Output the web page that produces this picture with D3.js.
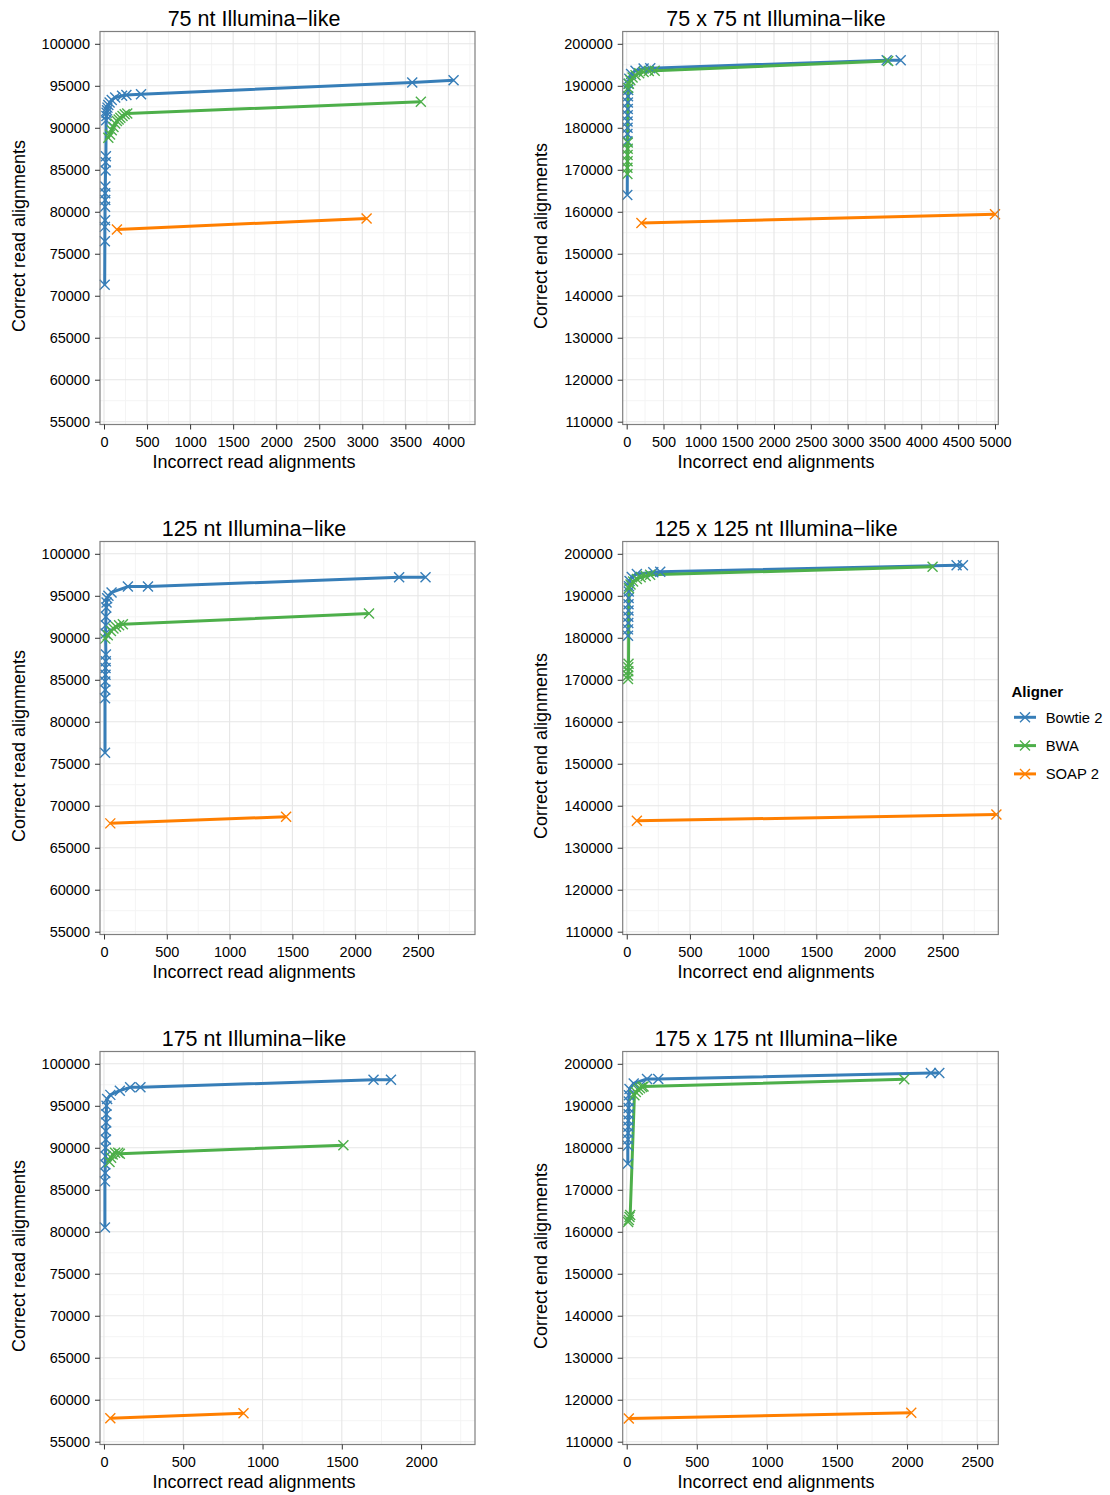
<!DOCTYPE html>
<html><head><meta charset="utf-8">
<script src="https://cdn.jsdelivr.net/npm/d3@7"></script>
<style>
body{margin:0;background:#fff}
text{font-family:"Liberation Sans",Arial,Helvetica,sans-serif;fill:#000}
</style>
</head><body>
<svg id="chart" width="1110" height="1495"></svg>
<script>
// ---------- data ----------
const aligners = ["Bowtie 2", "BWA", "SOAP 2"];
const alignerColors = ["#377EB8", "#4DAF4A", "#FF7F00"];

const panelTitles = ["75 nt Illumina\u2212like", "75 x 75 nt Illumina\u2212like",
  "125 nt Illumina\u2212like", "125 x 125 nt Illumina\u2212like",
  "175 nt Illumina\u2212like", "175 x 175 nt Illumina\u2212like"];
const xTitles = ["Incorrect read alignments", "Incorrect end alignments"];
const yTitles = ["Correct read alignments", "Correct end alignments"];

const singleYTicks = [55000, 60000, 65000, 70000, 75000, 80000, 85000, 90000, 95000, 100000];
const pairedYTicks = [110000, 120000, 130000, 140000, 150000, 160000, 170000, 180000, 190000, 200000];
const xTicks75 = [0, 500, 1000, 1500, 2000, 2500, 3000, 3500, 4000];
const xTicks75p = [0, 500, 1000, 1500, 2000, 2500, 3000, 3500, 4000, 4500, 5000];
const xTicks125 = [0, 500, 1000, 1500, 2000, 2500];
const xTicks175 = [0, 500, 1000, 1500, 2000];
const xTicks175p = [0, 500, 1000, 1500, 2000, 2500];

// panel 1: 75 nt single
const p1Bowtie2 = [[8,71300],[10,76500],[10,78200],[12,79000],[12,80600],[14,81400],[14,82200],[15,83000],[18,84900],[20,85900],[22,86600],[25,90900],[28,91400],[30,91800],[35,92100],[40,92400],[50,92700],[65,93000],[90,93300],[130,93600],[210,93800],[260,93900],[430,94000],[3580,95400],[4060,95650]];
const p1BWA = [[50,88800],[70,89200],[90,89700],[110,90100],[130,90500],[150,90800],[170,91000],[190,91200],[215,91400],[240,91600],[270,91700],[3680,93100]];
const p1SOAP2 = [[150,77900],[3050,79200]];
// panel 2: 75 x 75 paired
const p2Bowtie2 = [[8,164000],[10,176800],[10,178500],[12,180000],[12,181500],[14,183000],[15,184500],[16,186000],[18,187500],[20,189000],[25,190500],[35,191700],[60,192800],[120,193600],[230,194100],[320,194200],[3530,196100],[3720,196100]];
const p2BWA = [[10,169000],[10,170500],[12,172000],[12,173500],[14,175000],[15,176500],[20,189500],[30,190500],[50,191300],[80,192000],[120,192500],[170,193000],[230,193300],[300,193500],[380,193600],[3550,195900]];
const p2SOAP2 = [[200,157300],[5000,159400]];
// panel 3: 125 nt single
const p3Bowtie2 = [[8,76300],[8,82800],[10,83800],[10,84800],[12,85600],[12,86400],[14,87200],[15,88000],[12,90500],[14,91500],[15,92500],[18,93600],[20,94200],[25,94700],[35,95000],[60,95400],[190,96100],[350,96100],[2350,97200],[2560,97200]];
const p3BWA = [[10,89900],[30,90300],[55,90800],[75,91100],[95,91300],[120,91500],[150,91600],[2110,92900]];
const p3SOAP2 = [[50,67900],[1450,68700]];
// panel 4: 125 x 125 paired
const p4Bowtie2 = [[10,180500],[10,182000],[12,183500],[12,185000],[14,186500],[14,188000],[15,189500],[16,191000],[18,192300],[22,193500],[40,194500],[80,195200],[210,195600],[265,195700],[2610,197300],[2660,197300]];
const p4BWA = [[10,170200],[10,171000],[12,172000],[12,173000],[14,173800],[18,191800],[30,192700],[50,193400],[80,194000],[110,194400],[150,194700],[185,195000],[2420,196900]];
const p4SOAP2 = [[80,136400],[2925,137900]];
// panel 5: 175 nt single
const p5Bowtie2 = [[6,80500],[6,86000],[8,87000],[8,88000],[10,89000],[10,90000],[12,91000],[12,92000],[14,93000],[15,94000],[16,95000],[20,95800],[40,96300],[100,96800],[165,97200],[230,97200],[1700,98100],[1810,98100]];
const p5BWA = [[35,88300],[45,88800],[55,89200],[70,89400],[90,89400],[100,89300],[1510,90300]];
const p5SOAP2 = [[40,57800],[880,58400]];
// panel 6: 175 x 175 paired
const p6Bowtie2 = [[8,176200],[8,180500],[10,182000],[10,183500],[12,185000],[12,186500],[14,188000],[14,189500],[15,191000],[16,192500],[20,194000],[50,195300],[145,196400],[225,196400],[2170,197800],[2230,197800]];
const p6BWA = [[10,162300],[15,162800],[20,163500],[25,164000],[55,192500],[65,193300],[80,193800],[95,194200],[110,194500],[120,194600],[1980,196300]];
const p6SOAP2 = [[15,115500],[2030,116900]];

// ---------- layout ----------
const panels = [
  {series:[p1Bowtie2,p1BWA,p1SOAP2], xTicks:xTicks75,  yTicks:singleYTicks, xDom:[-46.5,4309], yDom:[54667,101465], col:0,row:0},
  {series:[p2Bowtie2,p2BWA,p2SOAP2], xTicks:xTicks75p, yTicks:pairedYTicks, xDom:[-54,5045],   yDom:[109333,202929], col:1,row:0},
  {series:[p3Bowtie2,p3BWA,p3SOAP2], xTicks:xTicks125, yTicks:singleYTicks, xDom:[-32,2954],   yDom:[54667,101465], col:0,row:1},
  {series:[p4Bowtie2,p4BWA,p4SOAP2], xTicks:xTicks125, yTicks:pairedYTicks, xDom:[-32,2940],   yDom:[109333,202929], col:1,row:1},
  {series:[p5Bowtie2,p5BWA,p5SOAP2], xTicks:xTicks175, yTicks:singleYTicks, xDom:[-25,2340],   yDom:[54667,101465], col:0,row:2},
  {series:[p6Bowtie2,p6BWA,p6SOAP2], xTicks:xTicks175p,yTicks:pairedYTicks, xDom:[-28.5,2651], yDom:[109333,202929], col:1,row:2}
];
const colX = [[100,475],[622.7,998.3]];
const titleCx = [254, 776];
const yTitleX = [25, 547];
const rowTop = r => 31.5 + 510*r;
const panelH = 393;

const svg = d3.select("#chart");
svg.append("rect").attr("width",1110).attr("height",1495).attr("fill","#fff");

function xMark(g, x, y, color, s) {
  g.append("path").attr("d", `M${x-s},${y-s}L${x+s},${y+s}M${x-s},${y+s}L${x+s},${y-s}`)
    .attr("stroke", color).attr("stroke-width", 1.4).attr("fill","none");
}

panels.forEach((p, i) => {
  const [L, R] = colX[p.col];
  const T = rowTop(p.row), B = T + panelH;
  const x = d3.scaleLinear().domain(p.xDom).range([L, R]);
  const y = d3.scaleLinear().domain(p.yDom).range([B, T]);
  const g = svg.append("g");

  // minor grid
  const xt = p.xTicks, yt = p.yTicks;
  const xStep = xt[1]-xt[0], yStep = yt[1]-yt[0];
  const xMinor = [], yMinor = [];
  for (let v = xt[0]-xStep/2; v <= p.xDom[1]; v += xStep) if (v >= p.xDom[0]) xMinor.push(v);
  for (let v = yt[0]-yStep/2; v <= p.yDom[1]; v += yStep) if (v >= p.yDom[0]) yMinor.push(v);
  g.selectAll(".xmin").data(xMinor).join("line").attr("x1",d=>x(d)).attr("x2",d=>x(d)).attr("y1",T).attr("y2",B)
    .attr("stroke","#F4F4F4").attr("stroke-width",1);
  g.selectAll(".ymin").data(yMinor).join("line").attr("y1",d=>y(d)).attr("y2",d=>y(d)).attr("x1",L).attr("x2",R)
    .attr("stroke","#F4F4F4").attr("stroke-width",1);
  g.selectAll(".xmaj").data(xt).join("line").attr("x1",d=>x(d)).attr("x2",d=>x(d)).attr("y1",T).attr("y2",B)
    .attr("stroke","#E6E6E6").attr("stroke-width",1.1);
  g.selectAll(".ymaj").data(yt).join("line").attr("y1",d=>y(d)).attr("y2",d=>y(d)).attr("x1",L).attr("x2",R)
    .attr("stroke","#E6E6E6").attr("stroke-width",1.1);

  // data
  const line = d3.line().x(d=>x(d[0])).y(d=>y(d[1]));
  p.series.forEach((s, k) => {
    g.append("path").datum(s).attr("d", line).attr("fill","none")
      .attr("stroke", alignerColors[k]).attr("stroke-width", 3).attr("stroke-linejoin","round");
  });
  p.series.forEach((s, k) => {
    s.forEach(d => xMark(g, x(d[0]), y(d[1]), alignerColors[k], 5));
  });

  // border
  g.append("rect").attr("x",L).attr("y",T).attr("width",R-L).attr("height",B-T)
    .attr("fill","none").attr("stroke","#7F7F7F").attr("stroke-width",1.2);

  // axes
  const ax = g.append("g").attr("transform",`translate(0,${B})`)
    .call(d3.axisBottom(x).tickValues(xt).tickSize(5).tickPadding(7).tickFormat(d3.format("d")));
  const ay = g.append("g").attr("transform",`translate(${L},0)`)
    .call(d3.axisLeft(y).tickValues(yt).tickSize(5).tickPadding(5).tickFormat(d3.format("d")));
  [ax, ay].forEach(a => {
    a.select(".domain").remove();
    a.selectAll(".tick line").attr("stroke","#333").attr("stroke-width",1);
    a.selectAll(".tick text").attr("font-size",14.5).attr("font-family",'"Liberation Sans",Arial,sans-serif').attr("fill","#000");
  });

  // titles
  svg.append("text").attr("x", titleCx[p.col]).attr("y", T-6).attr("text-anchor","middle")
    .attr("font-size",21.5).text(panelTitles[i]);
  svg.append("text").attr("x", titleCx[p.col]).attr("y", B+43.5).attr("text-anchor","middle")
    .attr("font-size",18).text(xTitles[p.col]);
  svg.append("text").attr("transform",`translate(${yTitleX[p.col]},${(T+B)/2+8}) rotate(-90)`)
    .attr("text-anchor","middle").attr("font-size",18).text(yTitles[p.col]);
});

// legend
const lg = svg.append("g");
lg.append("text").attr("x",1011.5).attr("y",697).attr("font-size",15).attr("font-weight","bold").text("Aligner");
aligners.forEach((a, k) => {
  const cy = 717.3 + k*28.3;
  lg.append("line").attr("x1",1014).attr("x2",1036).attr("y1",cy).attr("y2",cy)
    .attr("stroke",alignerColors[k]).attr("stroke-width",3);
  xMark(lg, 1025, cy, alignerColors[k], 5);
  lg.append("text").attr("x",1045.7).attr("y",cy+5.3).attr("font-size",14.8).text(a);
});
</script>
</body></html>
